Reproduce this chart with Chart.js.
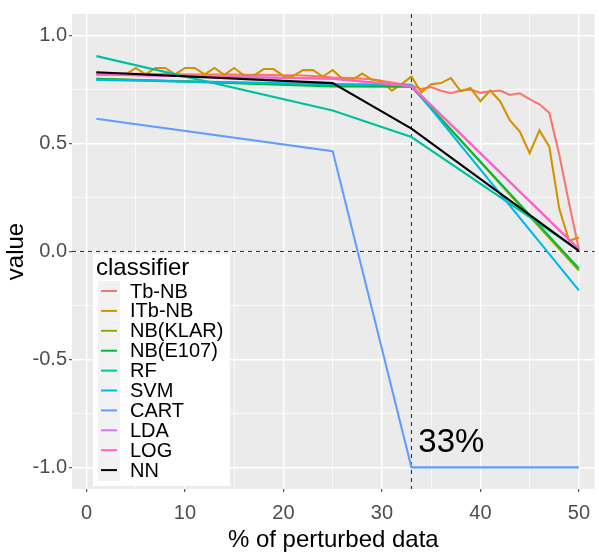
<!DOCTYPE html>
<html>
<head>
<meta charset="utf-8">
<script src="https://cdn.jsdelivr.net/npm/chart.js@4/dist/chart.umd.min.js"></script>
<style>
  html, body { margin: 0; padding: 0; background: #fff; }
  #wrap { width: 599px; height: 552px; position: relative; }
</style>
</head>
<body>
<div id="wrap"><canvas id="chart"></canvas></div>
<script>
// classifiers, in legend order
var classifiers = ['Tb-NB', 'ITb-NB', 'NB(KLAR)', 'NB(E107)', 'RF', 'SVM', 'CART', 'LDA', 'LOG', 'NN']
var colours = ['#F8766D', '#D39200', '#93AA00', '#00BA38', '#00C19F', '#00B9E3', '#619CFF', '#DB72FB', '#FF61C3', '#000000']

// % of perturbed data, full resolution (Tb-NB / ITb-NB)
var pctFull = [1, 2, 3, 4, 5, 6, 7, 8, 9, 10,
	11, 12, 13, 14, 15, 16, 17, 18, 19, 20,
	21, 22, 23, 24, 25, 26, 27, 28, 29, 30,
	31, 32, 33, 34, 35, 36, 37, 38, 39, 40,
	41, 42, 43, 44, 45, 46, 47, 48, 49, 50]
var tbNB = [0.825, 0.825, 0.824, 0.824, 0.823, 0.823, 0.822, 0.822, 0.821, 0.821,
	0.820, 0.820, 0.820, 0.819, 0.819, 0.818, 0.818, 0.817, 0.817, 0.816,
	0.816, 0.815, 0.813, 0.810, 0.806, 0.805, 0.803, 0.800, 0.798, 0.790,
	0.782, 0.775, 0.770, 0.752, 0.762, 0.745, 0.733, 0.745, 0.750, 0.735,
	0.742, 0.745, 0.725, 0.733, 0.706, 0.682, 0.642, 0.450, 0.225, 0.010]
var itbNB = [0.820, 0.820, 0.820, 0.820, 0.850, 0.820, 0.850, 0.850, 0.820, 0.850,
	0.850, 0.820, 0.850, 0.818, 0.850, 0.815, 0.815, 0.845, 0.845, 0.813,
	0.813, 0.840, 0.840, 0.810, 0.840, 0.800, 0.795, 0.824, 0.795, 0.790,
	0.745, 0.775, 0.810, 0.737, 0.775, 0.780, 0.803, 0.742, 0.757, 0.696,
	0.745, 0.696, 0.607, 0.556, 0.455, 0.561, 0.485, 0.200, 0.050, 0.065]

// % of perturbed data at the knots of the other classifiers
var pctKnots = [1, 25, 33, 50]
var nbKlar = [0.800, 0.770, 0.765, -0.088]
var nbE107 = [0.800, 0.765, 0.763, -0.078]
var rf = [0.905, 0.653, 0.530, 0.005]
var svm = [0.795, 0.775, 0.772, -0.180]
var cart = [0.615, 0.465, -1.000, -1.000]
var lda = [0.820, 0.800, 0.765, 0.010]
var logr = [0.820, 0.800, 0.767, 0.012]
var nn = [0.830, 0.780, 0.569, 0.003]

// tick labels (major) and grid steps (minor lines halfway)
var xTicks = [0, 10, 20, 30, 40, 50]
var yTicks = [-1.0, -0.5, 0.0, 0.5, 1.0]
var cutX = 33
var cutY = 0

var seriesX = [pctFull, pctFull, pctKnots, pctKnots, pctKnots, pctKnots, pctKnots, pctKnots, pctKnots, pctKnots]
var seriesY = [tbNB, itbNB, nbKlar, nbE107, rf, svm, cart, lda, logr, nn]

var FONT = "'Liberation Sans', Arial, sans-serif"

function pairs(xs, ys) {
	return xs.map(function(x, i) { return { x: x, y: ys[i] } })
}

var datasets = classifiers.map(function(name, i) {
	return {
		label: name,
		data: pairs(seriesX[i], seriesY[i]),
		borderColor: colours[i],
		backgroundColor: colours[i],
		borderWidth: 2.1,
		pointRadius: 0,
		tension: 0,
		fill: false,
		order: classifiers.length - i
	}
})

// major ticks plus minor ones halfway between
function withMinor(major) {
	var out = []
	for (var i = 0; i < major.length; i++) {
		out.push({ value: major[i], major: true })
		if (i < major.length - 1) out.push({ value: (major[i] + major[i + 1]) / 2, major: false })
	}
	return out
}

function isMajorTick(c) {
	return c.tick && c.tick.major
}

var panelPlugin = {
	id: 'panel',
	beforeDraw: function(chart) {
		var a = chart.chartArea, c = chart.ctx
		c.save()
		c.fillStyle = '#EBEBEB'
		c.fillRect(a.left, a.top, a.right - a.left, a.bottom - a.top)
		c.restore()
	},
	beforeDatasetsDraw: function(chart) {
		var a = chart.chartArea, c = chart.ctx
		var xs = chart.scales.x, ys = chart.scales.y
		c.save()
		c.strokeStyle = '#333333'
		c.lineWidth = 1.1
		c.setLineDash([4, 4])
		var px = xs.getPixelForValue(cutX)
		c.beginPath(); c.moveTo(px, a.top); c.lineTo(px, a.bottom); c.stroke()
		var py = ys.getPixelForValue(cutY)
		c.beginPath(); c.moveTo(a.left, py); c.lineTo(a.right, py); c.stroke()
		c.restore()
	},
	afterDatasetsDraw: function(chart) {
		var c = chart.ctx
		var xs = chart.scales.x, ys = chart.scales.y
		c.save()
		// annotation
		c.fillStyle = '#000'
		c.font = '33px ' + FONT
		c.textAlign = 'left'
		c.textBaseline = 'alphabetic'
		c.fillText(cutX + '%', xs.getPixelForValue(33.7), ys.getPixelForValue(-0.93))

		// legend inside the panel
		c.fillStyle = '#FFFFFF'
		c.fillRect(93, 254, 137, 232)
		c.fillStyle = '#000'
		c.font = '24px ' + FONT
		c.textBaseline = 'middle'
		c.fillText('classifier', 96, 268)
		c.fillStyle = '#F2F2F2'
		c.fillRect(98, 281, 22, 200)
		c.font = '20px ' + FONT
		classifiers.forEach(function(name, i) {
			var y = 291 + i * 19.9
			c.strokeStyle = colours[i]
			c.lineWidth = 2
			c.beginPath(); c.moveTo(101, y); c.lineTo(117, y); c.stroke()
			c.fillStyle = '#000'
			c.fillText(name, 130, y + 1)
		})
		c.restore()
	}
}

var ctx = document.getElementById('chart').getContext('2d')
var chart = new Chart(ctx, {
	type: 'line',
	data: { datasets: datasets },
	options: {
		responsive: true,
		maintainAspectRatio: false,
		animation: false,
		layout: { padding: { top: 8, right: 0, left: 0, bottom: 0 } },
		plugins: {
			legend: { display: false },
			tooltip: { enabled: false }
		},
		scales: {
			x: {
				type: 'linear',
				min: -1.47,
				max: 51.6,
				border: { display: false },
				afterBuildTicks: function(axis) { axis.ticks = withMinor(xTicks) },
				ticks: {
					autoSkip: false,
					maxRotation: 0,
					padding: 9,
					color: '#4D4D4D',
					font: { size: 20, family: FONT },
					callback: function(v) { return xTicks.indexOf(v) >= 0 ? String(v) : '' }
				},
				grid: {
					color: '#FFFFFF',
					lineWidth: function(c) { return isMajorTick(c) ? 1.4 : 0.7 },
					tickColor: function(c) { return isMajorTick(c) ? '#333333' : 'rgba(0,0,0,0)' },
					tickLength: 3,
					tickWidth: 1
				},
				title: {
					display: true,
					text: '% of perturbed data',
					color: '#000',
					font: { size: 24, family: FONT, lineHeight: 1.0 },
					padding: { top: 0, bottom: 0 }
				},
				afterFit: function(scale) { scale.height = 63 }
			},
			y: {
				type: 'linear',
				min: -1.1,
				max: 1.1,
				border: { display: false },
				afterBuildTicks: function(axis) { axis.ticks = withMinor(yTicks) },
				ticks: {
					autoSkip: false,
					padding: 2,
					color: '#4D4D4D',
					font: { size: 20, family: FONT },
					callback: function(v) {
						for (var i = 0; i < yTicks.length; i++) {
							if (Math.abs(yTicks[i] - v) < 1e-6) return yTicks[i].toFixed(1)
						}
						return ''
					}
				},
				grid: {
					color: '#FFFFFF',
					lineWidth: function(c) { return isMajorTick(c) ? 1.4 : 0.7 },
					tickColor: function(c) { return isMajorTick(c) ? '#333333' : 'rgba(0,0,0,0)' },
					tickLength: 3,
					tickWidth: 1
				},
				title: {
					display: true,
					text: 'value',
					color: '#000',
					font: { size: 24, family: FONT },
					padding: { top: 2, bottom: 2 }
				},
				afterFit: function(scale) { scale.width = 72 }
			}
		}
	},
	plugins: [panelPlugin]
})
</script>
</body>
</html>
